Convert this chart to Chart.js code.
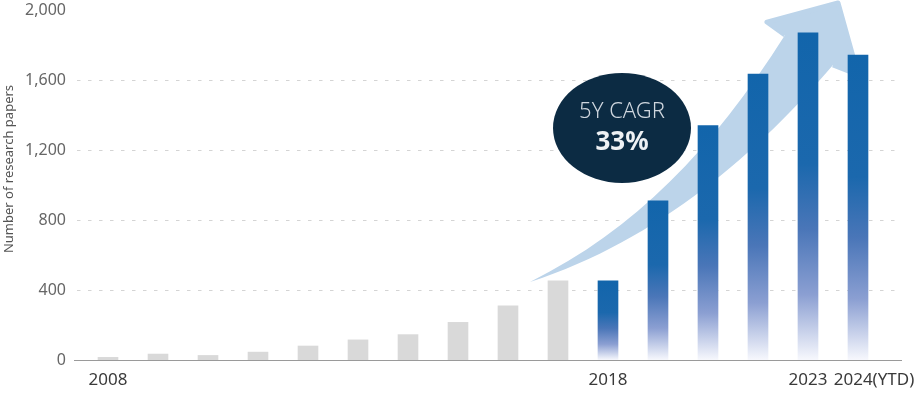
<!DOCTYPE html>
<html>
<head>
<meta charset="utf-8">
<script src="https://cdn.jsdelivr.net/npm/chart.js@4.4.1/dist/chart.umd.min.js"></script>
<style>
  html, body { margin: 0; padding: 0; background: #fff; }
  #wrap { width: 916px; height: 401px; }
</style>
</head>
<body>
<div id="wrap"><canvas id="papersChart" width="916" height="401"></canvas></div>
<script>
// one bar per year, only some years get a label under the axis
const tickLabels = ['2008', '', '', '', '', '', '', '', '', '', '2018', '', '', '', '2023', '2024(YTD)'];
const papers     = [15, 34, 26, 45, 80, 115, 145, 215, 310, 453, 452, 909, 1339, 1634, 1869, 1743];
const highlightFrom = 10;   // bars from 2018 on are blue
const yTicks = [0, 400, 800, 1200, 1600, 2000];

const cagrLabel = '5Y CAGR';
const cagrValue = '33%';

// arrow outline, in (bar index, value) so it follows the scales
const arrow = {
    tail:   [8.44, 446],
    upA:    [10.54, 743],
    upB:    [12.08, 1200],
    notchL: [13.54, 1857],
    wingL:  [13.18, 1931],
    tip:    [14.6, 2040],
    wingR:  [15.0, 1630],
    notchR: [14.5, 1686],
    loA:    [13.04, 1200],
    loB:    [11.04, 686]
};
const bubbleAt = [10.28, 1326];

const ctx = document.getElementById('papersChart').getContext('2d');

function barColor(c) {
    const i = c.dataIndex;
    if (i < highlightFrom) return '#d9d9d9';
    const chart = c.chart;
    if (!chart.chartArea) return '#1466ad';
    const ys = chart.scales.y;
    const top = ys.getPixelForValue(papers[i]);
    const bot = ys.getPixelForValue(0);
    const g = chart.ctx.createLinearGradient(0, top, 0, bot);
    g.addColorStop(0, '#1265ab');
    g.addColorStop(0.4, '#1b68ad');
    g.addColorStop(0.6, '#4a76b8');
    g.addColorStop(0.8, '#8b9fd2');
    g.addColorStop(1, '#f7f8fd');
    return g;
}

const decor = {
    id: 'decor',
    beforeDatasetsDraw(chart) {
        const c = chart.ctx;
        const xs = chart.scales.x, ys = chart.scales.y;
        const area = chart.chartArea;
        const px = p => [xs.getPixelForValue(p[0]), ys.getPixelForValue(p[1])];

        // dashed grid
        c.save();
        c.strokeStyle = '#d4d4d4';
        c.lineWidth = 1;
        c.setLineDash([3.5, 7.5]);
        yTicks.forEach(v => {
            if (v === 0 || v === 2000) return;
            const y = Math.round(ys.getPixelForValue(v)) + 0.5;
            c.beginPath();
            c.moveTo(area.left - 6, y);
            c.lineTo(area.right + 19, y);
            c.stroke();
        });
        c.setLineDash([]);
        // base line
        const y0 = Math.round(ys.getPixelForValue(0)) + 0.5;
        c.strokeStyle = '#9a9a9a';
        c.beginPath();
        c.moveTo(area.left - 9, y0);
        c.lineTo(area.right + 19, y0);
        c.stroke();

        // big arrow behind the bars
        const t = px(arrow.tail), ua = px(arrow.upA), ub = px(arrow.upB), nl = px(arrow.notchL);
        const wl = px(arrow.wingL), tp = px(arrow.tip), wr = px(arrow.wingR), nr = px(arrow.notchR);
        const la = px(arrow.loA), lb = px(arrow.loB);
        c.fillStyle = '#bcd4ea';
        c.strokeStyle = '#bcd4ea';
        c.beginPath();
        c.moveTo(t[0], t[1]);
        c.bezierCurveTo(ua[0], ua[1], ub[0], ub[1], nl[0], nl[1]);
        c.lineTo(wl[0], wl[1]);
        c.lineTo(tp[0], tp[1]);
        c.lineTo(wr[0], wr[1]);
        c.lineTo(nr[0], nr[1]);
        c.bezierCurveTo(la[0], la[1], lb[0], lb[1], t[0], t[1]);
        c.closePath();
        c.fill();
        c.lineJoin = 'round';
        c.lineWidth = 5;
        c.beginPath();
        c.moveTo(nl[0], nl[1]);
        c.lineTo(wl[0], wl[1]);
        c.lineTo(tp[0], tp[1]);
        c.lineTo(wr[0], wr[1]);
        c.lineTo(nr[0], nr[1]);
        c.stroke();
        c.restore();
    },
    afterDatasetsDraw(chart) {
        const c = chart.ctx;
        const xs = chart.scales.x, ys = chart.scales.y;
        const area = chart.chartArea;

        // CAGR bubble
        const bx = xs.getPixelForValue(bubbleAt[0]);
        const by = ys.getPixelForValue(bubbleAt[1]);
        c.save();
        c.fillStyle = '#0c2b43';
        c.beginPath();
        c.ellipse(bx, by, 69, 55, 0, 0, Math.PI * 2);
        c.fill();
        c.textAlign = 'center';
        c.textBaseline = 'middle';
        c.fillStyle = '#cfd6de';
        c.font = '300 22px "Noto Sans"';
        c.fillText(cagrLabel, bx, by - 16);
        c.fillStyle = '#eef1f4';
        c.font = 'bold 26px "Noto Sans"';
        c.fillText(cagrValue, bx, by + 15);

        // year labels under the axis
        c.fillStyle = '#3a3a3a';
        c.font = '17px "Noto Sans"';
        tickLabels.forEach((lab, i) => {
            if (!lab) return;
            const shift = i === tickLabels.length - 1 ? 16 : 0;
            c.fillText(lab, xs.getPixelForValue(i) + shift, area.bottom + 20);
        });

        // y title
        c.translate(9, 169);
        c.rotate(-Math.PI / 2);
        c.fillStyle = '#555';
        c.font = '13px "Noto Sans"';
        c.fillText('Number of research papers', 0, 0);
        c.restore();
    }
};

const papersChart = new Chart(ctx, {
    type: 'bar',
    data: {
        labels: tickLabels,
        datasets: [{
            data: papers,
            backgroundColor: barColor,
            borderWidth: 0,
            barThickness: 20
        }]
    },
    options: {
        responsive: false,
        animation: false,
        devicePixelRatio: 1,
        layout: { padding: { top: 10, right: 33, left: 0, bottom: 0 } },
        plugins: {
            legend: { display: false },
            tooltip: { enabled: false }
        },
        scales: {
            x: {
                grid: { display: false, drawTicks: false },
                border: { display: false },
                ticks: { display: false },
                afterFit: s => { s.height = 41; s.paddingLeft = 0; s.paddingRight = 0; }
            },
            y: {
                min: 0,
                max: 2000,
                afterBuildTicks: s => { s.ticks = yTicks.map(v => ({ value: v })); },
                grid: { display: false, drawTicks: false },
                border: { display: false },
                ticks: {
                    color: '#666',
                    font: { family: 'Noto Sans', size: 16 },
                    padding: 17,
                    callback: v => v.toLocaleString('en-US')
                },
                afterFit: s => { s.width = 83; s.paddingTop = 0; s.paddingBottom = 0; }
            }
        }
    },
    plugins: [decor]
});
</script>
</body>
</html>
